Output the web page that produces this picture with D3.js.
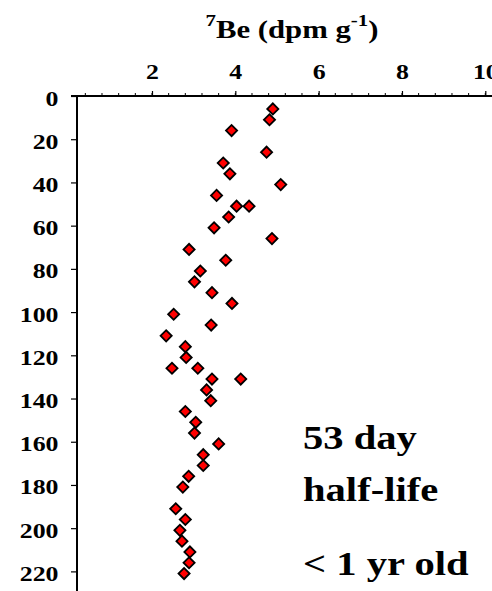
<!DOCTYPE html>
<html>
<head>
<meta charset="utf-8">
<script src="https://cdn.jsdelivr.net/npm/d3@7"></script>
<style>
  body { margin: 0; background: #fff; }
</style>
</head>
<body>
<svg id="chart" width="492" height="591"></svg>
<script>
// 7Be activity (dpm/g) vs depth
var depth = [6, 11, 16, 26, 31, 36, 41, 46, 51, 51, 56, 61, 66, 71, 76, 81, 86, 91, 96,
             101, 106, 111, 116, 121, 126, 126, 131, 131, 136, 141, 146, 151, 156, 161,
             166, 171, 176, 181, 191, 196, 201, 206, 211, 216, 221];
var be7 = [4.90, 4.82, 3.91, 4.75, 3.71, 3.87, 5.09, 3.55, 4.03, 4.33, 3.84, 3.49, 4.88,
           2.89, 3.77, 3.16, 3.02, 3.44, 3.92, 2.52, 3.42, 2.34, 2.80, 2.82, 2.48, 3.10,
           3.44, 4.13, 3.31, 3.41, 2.80, 3.05, 3.02, 3.60, 3.23, 3.23, 2.88, 2.74, 2.57,
           2.80, 2.67, 2.72, 2.91, 2.89, 2.77];
var xTicks = [2, 4, 6, 8, 10];
var yTicks = [0, 20, 40, 60, 80, 100, 120, 140, 160, 180, 200, 220];
var notes = ["53 day", "half-life", "< 1 yr old"];

var FONT = "Liberation Serif, Times New Roman, serif",
    SX = 1.23; // text in the original is a bit wider than tall

var svg = d3.select("#chart"),
    margin = {top: 96, left: 77};

var x = d3.scaleLinear().domain([0.2, 10]).range([margin.left, 485.3]),
    y = d3.scaleLinear().domain([0, 230]).range([margin.top, 593]);

// top axis
var xAxis = svg.append("g")
    .attr("transform", "translate(0," + margin.top + ")")
    .call(d3.axisTop(x).tickValues(xTicks).tickSize(5).tickFormat(d3.format("d")));
xAxis.append("g").selectAll("line")
    .data(d3.range(0.4, 10.01, 0.4))
    .enter().append("line")
    .attr("x1", function(d) { return x(d); })
    .attr("x2", function(d) { return x(d); })
    .attr("y1", 0).attr("y2", -3)
    .attr("stroke", "#000").attr("stroke-width", 1);
xAxis.selectAll(".tick text")
    .attr("x", 0).attr("y", -17.3).attr("dy", null)
    .attr("transform", "scale(" + SX + ",1)");

// left axis
var yAxis = svg.append("g")
    .attr("transform", "translate(" + margin.left + ",0)")
    .call(d3.axisLeft(y).tickValues(yTicks).tickSize(6).tickFormat(d3.format("d")));
yAxis.selectAll(".tick text")
    .attr("x", -18.5 / SX).attr("dy", "0.43em")
    .attr("transform", "scale(" + SX + ",1)");

[xAxis, yAxis].forEach(function(a) {
    a.attr("font-family", FONT).attr("font-size", 21).attr("font-weight", "bold");
    a.select(".domain").attr("stroke-width", 2);
    a.selectAll(".tick line").attr("stroke-width", 1.2);
});
xAxis.select(".domain").attr("d", "M" + (margin.left - 6) + ",0H" + 492);
yAxis.select(".domain").attr("d", "M0," + margin.top + "V591");

// title
var title = svg.append("text")
    .attr("transform", "translate(292,37.5) scale(" + SX + ",1)")
    .attr("text-anchor", "middle")
    .attr("font-family", FONT).attr("font-weight", "bold")
    .attr("font-size", 25);
title.append("tspan").attr("font-size", 17).attr("dy", -12).text("7");
title.append("tspan").attr("dy", 12).text("Be (dpm g");
title.append("tspan").attr("font-size", 17).attr("dy", -12).text("-1");
title.append("tspan").attr("dy", 12).text(")");

// points
var diamond = d3.symbol().type(d3.symbolSquare).size(62);
svg.append("g").selectAll("path")
    .data(depth)
    .enter().append("path")
    .attr("d", diamond)
    .attr("transform", function(d, i) {
        return "translate(" + x(be7[i]) + "," + y(d) + ") rotate(45)";
    })
    .attr("fill", "#ff0000")
    .attr("stroke", "#000")
    .attr("stroke-width", 1.8);

// annotations
svg.append("g").selectAll("text")
    .data(notes)
    .enter().append("text")
    .attr("transform", function(d, i) {
        return "translate(303," + [449, 501, 575][i] + ") scale(" + SX + ",1)";
    })
    .attr("font-family", FONT).attr("font-weight", "bold")
    .attr("font-size", 33)
    .text(function(d) { return d; });
</script>
</body>
</html>
